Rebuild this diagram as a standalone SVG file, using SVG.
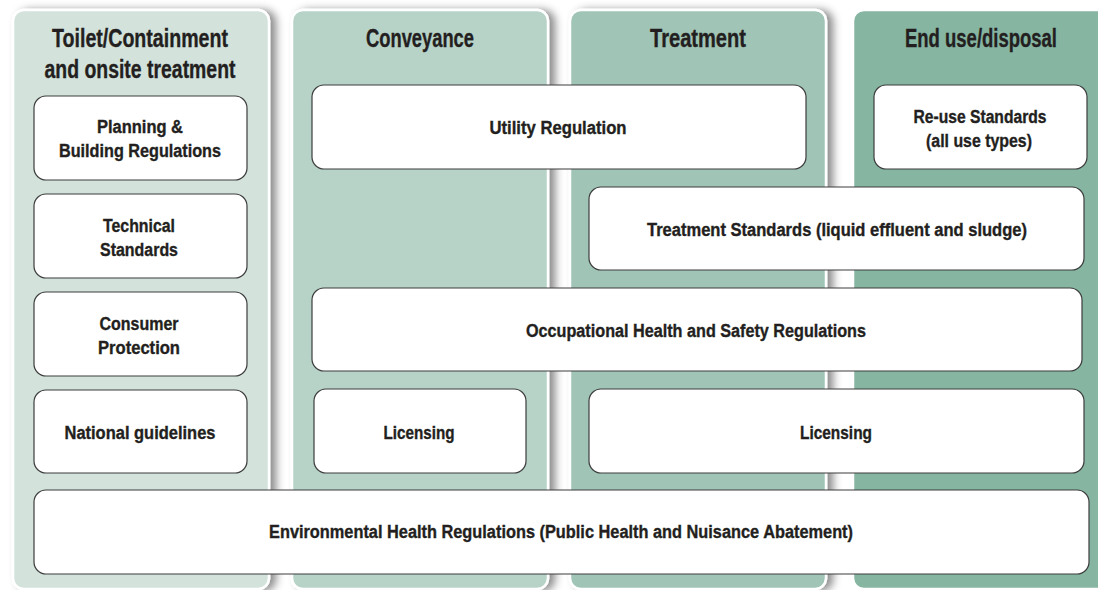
<svg xmlns="http://www.w3.org/2000/svg" width="1098" height="590" viewBox="0 0 1098 590">
<defs>
<filter id="sh" x="-10%" y="-10%" width="130%" height="120%">
<feDropShadow dx="6" dy="1" stdDeviation="4" flood-color="#000" flood-opacity="0.45"/>
</filter>
</defs>
<style>
.col{stroke:#fff;stroke-width:2.5;filter:url(#sh)}
.box{fill:#fff;stroke:#3c3c3c;stroke-width:1.2}
text{font-family:"Liberation Sans Narrow","Liberation Sans",Arial,sans-serif;font-weight:bold;fill:#231f20;stroke:#231f20;stroke-width:0.35;text-anchor:middle}
.h{font-size:25px}
.t{font-size:18px}
</style>
<rect width="1098" height="590" fill="#fff"/>
<g id="columns">
<g id="col-containment"><rect class="col" x="13" y="10" width="256" height="579" rx="11" fill="#d3e3dc"/>
<text class="h" x="140" y="47" textLength="176" lengthAdjust="spacingAndGlyphs">Toilet/Containment</text>
<text class="h" x="140" y="78" textLength="191" lengthAdjust="spacingAndGlyphs">and onsite treatment</text></g>
<g id="col-conveyance"><rect class="col" x="292" y="10" width="256" height="579" rx="11" fill="#b7d3c8"/>
<text class="h" x="420" y="47" textLength="108" lengthAdjust="spacingAndGlyphs">Conveyance</text></g>
<g id="col-treatment"><rect class="col" x="570" y="10" width="256" height="579" rx="11" fill="#a0c4b6"/>
<text class="h" x="698" y="47" textLength="96" lengthAdjust="spacingAndGlyphs">Treatment</text></g>
<g id="col-enduse"><path d="M1098 10 H864 A11 11 0 0 0 853 21 V578 A11 11 0 0 0 864 589 H1098 Z" fill="#86b5a2"/>
<path d="M1098 10 H864 A11 11 0 0 0 853 21 V578 A11 11 0 0 0 864 589 H1098" fill="none" stroke="#fff" stroke-width="2.5"/>
<text class="h" x="981" y="47" textLength="152" lengthAdjust="spacingAndGlyphs">End use/disposal</text></g>
</g>
<g id="connectors"></g>
<g id="n-planning"><rect class="box" x="34" y="96" width="213" height="84" rx="12"/>
<text class="t" x="140" y="133" textLength="86" lengthAdjust="spacingAndGlyphs">Planning &amp;</text>
<text class="t" x="140" y="157" textLength="162" lengthAdjust="spacingAndGlyphs">Building Regulations</text></g>
<g id="n-technical"><rect class="box" x="34" y="194" width="213" height="84" rx="12"/>
<text class="t" x="139" y="232" textLength="72" lengthAdjust="spacingAndGlyphs">Technical</text>
<text class="t" x="139" y="256" textLength="78" lengthAdjust="spacingAndGlyphs">Standards</text></g>
<g id="n-consumer"><rect class="box" x="34" y="292" width="213" height="84" rx="12"/>
<text class="t" x="139" y="330" textLength="79" lengthAdjust="spacingAndGlyphs">Consumer</text>
<text class="t" x="139" y="354" textLength="82" lengthAdjust="spacingAndGlyphs">Protection</text></g>
<g id="n-national"><rect class="box" x="34" y="390" width="213" height="83" rx="12"/>
<text class="t" x="140" y="439" textLength="151" lengthAdjust="spacingAndGlyphs">National guidelines</text></g>
<g id="n-utility"><rect class="box" x="312" y="85" width="494" height="84" rx="12"/>
<text class="t" x="558" y="134" textLength="137" lengthAdjust="spacingAndGlyphs">Utility Regulation</text></g>
<g id="n-reuse"><rect class="box" x="874" y="85" width="213" height="84" rx="12"/>
<text class="t" x="980" y="123" textLength="133" lengthAdjust="spacingAndGlyphs">Re-use Standards</text>
<text class="t" x="979" y="147" textLength="106" lengthAdjust="spacingAndGlyphs">(all use types)</text></g>
<g id="n-treatment-standards"><rect class="box" x="589" y="187" width="495" height="83" rx="12"/>
<text class="t" x="837" y="236" textLength="380" lengthAdjust="spacingAndGlyphs">Treatment Standards (liquid effluent and sludge)</text></g>
<g id="n-ohs"><rect class="box" x="312" y="288" width="770" height="83" rx="12"/>
<text class="t" x="696" y="337" textLength="340" lengthAdjust="spacingAndGlyphs">Occupational Health and Safety Regulations</text></g>
<g id="n-licensing-conv"><rect class="box" x="314" y="389" width="212" height="84" rx="12"/>
<text class="t" x="419" y="439" textLength="71" lengthAdjust="spacingAndGlyphs">Licensing</text></g>
<g id="n-licensing-treat"><rect class="box" x="589" y="389" width="495" height="84" rx="12"/>
<text class="t" x="836" y="439" textLength="72" lengthAdjust="spacingAndGlyphs">Licensing</text></g>
<g id="n-environmental"><rect class="box" x="34" y="490" width="1055" height="84" rx="12"/>
<text class="t" x="561" y="538" textLength="584" lengthAdjust="spacingAndGlyphs">Environmental Health Regulations (Public Health and Nuisance Abatement)</text></g>
</svg>
